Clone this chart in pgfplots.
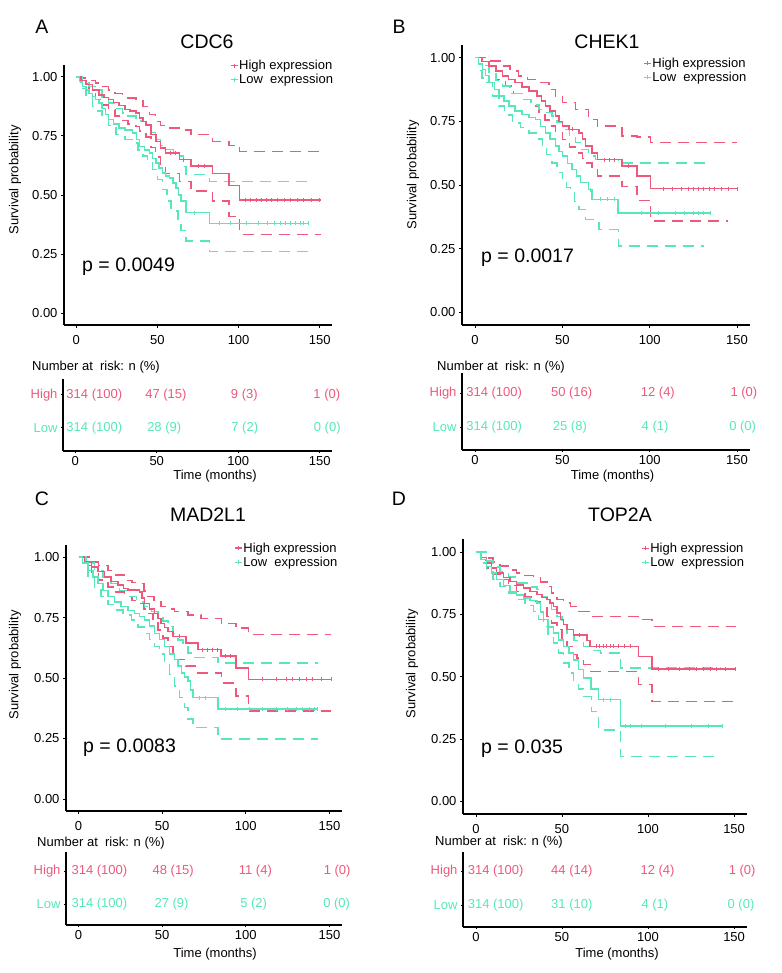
\documentclass[border=0pt]{standalone}
\usepackage{pgfplots}
\pgfplotsset{compat=1.18}
\usepackage{fontspec}
\setmainfont{Liberation Sans}
\definecolor{hi}{RGB}{238,88,122}
\definecolor{lo}{RGB}{86,232,186}
\newcommand{\fsS}{\fontsize{13}{15}\selectfont}
\newcommand{\fsL}{\fontsize{19.5}{22}\selectfont}
\pgfplotsset{
  base/.style={scale only axis, axis lines=left, axis line style={-, line width=1.1pt},
    xmin=-7.5, xmax=157.5, xtick={0,50,100,150}, xticklabels={0,50,100,150},
    tick align=outside, major tick length=3pt, tick style={black, line width=0.8pt},
    ticklabel style={font=\fsS}, clip=false,
    /pgf/number format/assume math mode=true},
  surv/.style={base, ymin=-0.05, ymax=1.05, ytick={0,0.25,0.5,0.75,1},
    yticklabels={0.00,0.25,0.50,0.75,1.00}, xticklabel style={yshift=-4pt},
    legend image code/.code={\draw[##1] (0pt,0pt) -- (7pt,0pt); \draw[##1, line width=0.8pt] (3.5pt,-2pt) -- (3.5pt,2pt);},
    legend style={draw=none, fill=none, font=\fsS, inner sep=0pt, row sep=2pt,
      nodes={inner sep=0.6pt, anchor=west}},
    legend cell align=left},
  tab/.style={base, ytick={1,2}, yticklabels={\textcolor{lo}{Low},\textcolor{hi}{High}}, major tick length=2pt},
  est/.style={const plot, line width=1.5pt, forget plot},
  ci/.style={const plot, line width=1.45pt, dash pattern=on 11pt off 7pt, forget plot},
  cens/.style={only marks, mark=|, mark size=2pt, forget plot, mark options={line width=0.8pt, solid}},
}
\begin{document}
\begin{tikzpicture}[x=1pt,y=1pt]
\path[use as bounding box] (0,0) rectangle (781,973);

% ---------------- Panel A ----------------
\begin{axis}[surv, at={(64pt,648pt)}, anchor=south west, width=268pt, height=260pt,
  legend style={at={(1.007,1.022)}, anchor=north east}]
\addplot[ci, hi] coordinates {(0,1.0)(4,0.995)(8,0.985)(12,0.973)(16,0.958)(20,0.945)(24,0.93)(28.6,0.917)(32,0.91)(36.8,0.903)(41,0.875)(45,0.84)(49,0.81)(52,0.795)(55,0.783)(63.6,0.775)(70.8,0.755)(84,0.727)(94,0.71)(100.6,0.685)(150.6,0.685)};
\addplot[ci, hi] coordinates {(0,1.0)(4,0.97)(8,0.935)(12,0.905)(16,0.88)(20,0.86)(24,0.835)(28,0.815)(32,0.8)(36.8,0.79)(39,0.77)(43,0.745)(46,0.7)(49,0.66)(52,0.625)(55,0.59)(63.6,0.558)(70.8,0.516)(84,0.474)(94,0.41)(100.6,0.333)(150.6,0.333)};
\addplot[ci, lo] coordinates {(0,1.0)(4,0.985)(8,0.96)(12,0.945)(16,0.915)(20,0.889)(24,0.865)(28.6,0.847)(32,0.835)(36.8,0.826)(40,0.81)(43,0.797)(46,0.765)(49,0.734)(52,0.71)(55,0.692)(60,0.675)(63.6,0.664)(66,0.62)(67.7,0.586)(82,0.558)(142.8,0.558)};
\addplot[ci, lo] coordinates {(0,1.0)(3,0.95)(6,0.92)(10,0.875)(13,0.855)(16,0.833)(20,0.795)(24.5,0.755)(30,0.735)(34.8,0.72)(38,0.69)(41,0.664)(44,0.635)(47,0.608)(50,0.565)(53,0.523)(56,0.475)(58.4,0.432)(62.6,0.397)(64.6,0.35)(67.7,0.305)(82,0.26)(142.8,0.26)};
\addplot[est, hi] coordinates {(0,1.0)(3,0.985)(6,0.968)(10,0.945)(14,0.924)(17,0.912)(20,0.903)(23,0.892)(26.5,0.878)(30,0.861)(33,0.855)(36.8,0.847)(39,0.826)(41,0.81)(43,0.797)(46,0.755)(49,0.727)(52,0.699)(55,0.678)(63.6,0.65)(70.8,0.622)(84,0.59)(94,0.54)(100.6,0.478)(150.6,0.478)};
\addplot[est, lo] coordinates {(0,1.0)(2,0.98)(4,0.96)(6,0.945)(8,0.93)(10,0.917)(12,0.903)(14,0.889)(16,0.865)(18,0.84)(20,0.819)(23,0.8)(26.5,0.783)(30,0.775)(34.8,0.762)(37,0.735)(39,0.706)(42,0.69)(45,0.678)(47,0.655)(49,0.636)(51,0.615)(53,0.594)(55,0.58)(57.4,0.572)(59.5,0.55)(61.5,0.53)(63,0.5)(64.6,0.474)(67.7,0.425)(82,0.38)(142.8,0.38)};
\addplot[cens, hi] coordinates {(58,0.678)(61,0.678)(66,0.65)(75,0.622)(79,0.622)(104,0.478)(107,0.478)(111,0.478)(114,0.478)(117,0.478)(120,0.478)(124,0.478)(128,0.478)(132,0.478)(136,0.478)(140,0.478)(145,0.478)(150,0.478)};
\addplot[cens, lo] coordinates {(73,0.425)(88,0.38)(95,0.38)(105,0.38)(112,0.38)(118,0.38)(122,0.38)(126,0.38)(129,0.38)(132,0.38)(135,0.38)(138,0.38)(140,0.38)(142.8,0.38)};
\addlegendimage{hi, line width=1.4pt}\addlegendentry{High expression}
\addlegendimage{lo, line width=1.4pt}\addlegendentry{Low~ expression}
\end{axis}
\begin{axis}[tab, at={(63pt,522pt)}, anchor=south west, width=269pt, height=72pt, ymin=0.3, ymax=2.48]
\addplot[draw=none, forget plot] coordinates {(0,1)(150,2)};
\node[hi, font=\fsS] at (axis cs:11.7,2) {314 (100)};
\node[hi, font=\fsS] at (axis cs:55.6,2) {47 (15)};
\node[hi, font=\fsS] at (axis cs:103.7,2) {9 (3)};
\node[hi, font=\fsS] at (axis cs:154.3,2) {1 (0)};
\node[lo, font=\fsS] at (axis cs:11.7,1) {314 (100)};
\node[lo, font=\fsS] at (axis cs:54.6,1) {28 (9)};
\node[lo, font=\fsS] at (axis cs:104,1) {7 (2)};
\node[lo, font=\fsS] at (axis cs:154.6,1) {0 (0)};
\end{axis}

% ---------------- Panel B ----------------
\begin{axis}[surv, at={(462pt,648pt)}, anchor=south west, width=288pt, height=280pt,
  legend style={at={(0.99,0.957)}, anchor=north east}]
\addplot[ci, hi] coordinates {(0,1.0)(8,0.987)(15.6,0.967)(20,0.948)(25,0.928)(30,0.915)(34.7,0.902)(42.3,0.875)(46,0.85)(50,0.823)(57.6,0.797)(65,0.757)(70,0.731)(84.2,0.692)(92.8,0.688)(100.4,0.666)(150,0.666)};
\addplot[ci, hi] coordinates {(0,1.0)(4,0.97)(8,0.941)(12,0.915)(17.5,0.889)(22,0.86)(27,0.836)(32,0.81)(36.6,0.784)(40,0.755)(42.3,0.731)(46,0.705)(50,0.679)(54,0.65)(57.6,0.626)(61.5,0.605)(63.3,0.587)(67,0.56)(70,0.535)(84.2,0.495)(92.8,0.44)(100.4,0.358)(145,0.358)};
\addplot[ci, lo] coordinates {(0,1.0)(4,0.97)(8,0.941)(12,0.91)(15.6,0.889)(20,0.86)(27,0.836)(32,0.815)(36.6,0.797)(40,0.785)(44,0.771)(47,0.745)(50,0.718)(54,0.69)(57.6,0.666)(61,0.64)(65,0.613)(69,0.6)(82,0.587)(134.7,0.587)};
\addplot[ci, lo] coordinates {(0,1.0)(2,0.95)(4,0.92)(6,0.902)(10,0.85)(13.7,0.81)(17,0.775)(21.3,0.744)(26,0.725)(31,0.705)(35,0.68)(38.5,0.653)(41,0.62)(44,0.587)(47,0.55)(50,0.509)(52.5,0.49)(54.7,0.469)(57,0.435)(59.5,0.404)(63.3,0.364)(71,0.325)(82,0.26)(131,0.26)};
\addplot[est, hi] coordinates {(0,1.0)(4,0.985)(8,0.967)(12,0.948)(15.6,0.928)(19,0.915)(23,0.902)(27,0.885)(31,0.869)(35.6,0.849)(38,0.83)(40.4,0.81)(43,0.79)(46,0.771)(48,0.75)(50,0.731)(53.7,0.718)(59.5,0.705)(61.5,0.68)(63.3,0.653)(67,0.626)(70,0.6)(84.2,0.574)(92.8,0.535)(100.4,0.486)(150,0.486)};
\addplot[est, lo] coordinates {(0,1.0)(2,0.975)(4.2,0.954)(6,0.93)(8,0.902)(11,0.875)(13.7,0.849)(16.5,0.83)(19.4,0.81)(23,0.79)(27,0.777)(31,0.765)(34.7,0.758)(37.5,0.73)(40.4,0.705)(43,0.68)(46,0.653)(48,0.632)(50,0.613)(53,0.585)(55.6,0.561)(58,0.535)(60.4,0.509)(65,0.482)(67,0.443)(82,0.39)(134.7,0.39)};
\addplot[cens, hi] coordinates {(56,0.718)(74,0.6)(77,0.6)(80,0.6)(88,0.574)(108,0.486)(113,0.486)(118,0.486)(122,0.486)(125,0.486)(128,0.486)(131,0.486)(134,0.486)(137,0.486)(141,0.486)(145,0.486)(150,0.486)};
\addplot[cens, lo] coordinates {(66,0.482)(72,0.443)(76,0.443)(80,0.443)(95,0.39)(105,0.39)(115,0.39)(120,0.39)(125,0.39)(128,0.39)(131,0.39)(134.7,0.39)};
\addlegendimage{hi, line width=1.4pt}\addlegendentry{High expression}
\addlegendimage{lo, line width=1.4pt}\addlegendentry{Low~ expression}
\end{axis}
\begin{axis}[tab, at={(462pt,523pt)}, anchor=south west, width=288pt, height=77pt, ymin=0.32, ymax=2.59]
\addplot[draw=none, forget plot] coordinates {(0,1)(150,2)};
\node[hi, font=\fsS] at (axis cs:10.9,2) {314 (100)};
\node[hi, font=\fsS] at (axis cs:55.3,2) {50 (16)};
\node[hi, font=\fsS] at (axis cs:104.7,2) {12 (4)};
\node[hi, font=\fsS] at (axis cs:154,2) {1 (0)};
\node[lo, font=\fsS] at (axis cs:10.9,1) {314 (100)};
\node[lo, font=\fsS] at (axis cs:54.3,1) {25 (8)};
\node[lo, font=\fsS] at (axis cs:103.1,1) {4 (1)};
\node[lo, font=\fsS] at (axis cs:153.3,1) {0 (0)};
\end{axis}

% ---------------- Panel C ----------------
\begin{axis}[surv, at={(66pt,162pt)}, anchor=south west, width=276pt, height=266pt,
  legend style={at={(0.986,1.0115)}, anchor=north east}]
\addplot[ci, hi] coordinates {(0,1.0)(7.6,0.98)(12,0.965)(17.5,0.945)(22,0.925)(27.5,0.904)(32,0.895)(36.5,0.89)(39,0.86)(41.4,0.836)(45,0.815)(49.4,0.795)(53,0.785)(57.4,0.774)(65.3,0.76)(73.3,0.747)(85.3,0.726)(94.2,0.706)(101.6,0.679)(151,0.679)};
\addplot[ci, hi] coordinates {(0,1.0)(3.5,0.965)(7.6,0.932)(12,0.905)(17.5,0.877)(22,0.855)(27.5,0.836)(32,0.82)(36.5,0.808)(39,0.785)(41.4,0.767)(44.5,0.73)(47.4,0.699)(50.5,0.665)(53.4,0.631)(56.4,0.6)(57.4,0.576)(64.3,0.549)(71.3,0.521)(85.3,0.48)(94.2,0.425)(101.6,0.364)(151,0.364)};
\addplot[ci, lo] coordinates {(0,1.0)(4.5,0.975)(9.6,0.945)(14.5,0.918)(19.5,0.89)(24.5,0.862)(29.5,0.836)(34.5,0.815)(39.4,0.795)(43.5,0.775)(47.4,0.754)(50.5,0.735)(53.4,0.713)(56.5,0.685)(59.4,0.658)(62.5,0.63)(65.3,0.603)(68.3,0.585)(83.3,0.562)(143,0.562)};
\addplot[ci, lo] coordinates {(0,1.0)(2.5,0.96)(5.6,0.918)(9.5,0.875)(13.5,0.836)(17.5,0.805)(21.5,0.781)(26.5,0.76)(31.5,0.74)(35.5,0.71)(39.4,0.685)(42.5,0.66)(45.4,0.631)(48.5,0.6)(51.4,0.562)(54.5,0.515)(57.4,0.466)(60.5,0.42)(63.3,0.378)(65.5,0.33)(68.3,0.295)(83.3,0.248)(143,0.248)};
\addplot[est, hi] coordinates {(0,1.0)(3.5,0.98)(7.6,0.959)(11.5,0.94)(15.5,0.918)(19.5,0.9)(23.5,0.884)(27,0.87)(29.5,0.863)(36.5,0.856)(38,0.83)(39.4,0.808)(42.5,0.785)(45.4,0.767)(47.5,0.745)(49.4,0.726)(51.5,0.708)(53.4,0.692)(56.4,0.672)(64.3,0.644)(71.3,0.617)(85.3,0.59)(94.2,0.542)(101.6,0.494)(151,0.494)};
\addplot[est, lo] coordinates {(0,1.0)(2.5,0.975)(5.6,0.945)(8.5,0.918)(11.6,0.891)(14.5,0.862)(17.5,0.836)(21.5,0.815)(25.5,0.795)(29.5,0.78)(33.5,0.767)(36.5,0.755)(39.4,0.74)(42.5,0.715)(45.4,0.685)(48.5,0.66)(51.4,0.631)(54.5,0.6)(57.4,0.576)(59.5,0.55)(61.4,0.521)(63.3,0.505)(65.3,0.487)(66.8,0.45)(68.3,0.419)(83.3,0.371)(143,0.371)};
\addplot[cens, hi] coordinates {(60,0.672)(74,0.617)(77,0.617)(80,0.617)(83,0.617)(88,0.59)(91,0.59)(110,0.494)(118,0.494)(124,0.494)(128,0.494)(132,0.494)(136,0.494)(140,0.494)(145,0.494)(151,0.494)};
\addplot[cens, lo] coordinates {(72,0.419)(76,0.419)(88,0.371)(95,0.371)(102,0.371)(110,0.371)(118,0.371)(125,0.371)(130,0.371)(134,0.371)(138,0.371)(141,0.371)(143,0.371)};
\addlegendimage{hi, line width=1.4pt}\addlegendentry{High expression}
\addlegendimage{lo, line width=1.4pt}\addlegendentry{Low~ expression}
\end{axis}
\begin{axis}[tab, at={(66pt,48pt)}, anchor=south west, width=276pt, height=73pt, ymin=0.36, ymax=2.58]
\addplot[draw=none, forget plot] coordinates {(0,1)(150,2)};
\node[hi, font=\fsS] at (axis cs:12.5,2) {314 (100)};
\node[hi, font=\fsS] at (axis cs:56.6,2) {48 (15)};
\node[hi, font=\fsS] at (axis cs:105.7,2) {11 (4)};
\node[hi, font=\fsS] at (axis cs:154.6,2) {1 (0)};
\node[lo, font=\fsS] at (axis cs:12.5,1) {314 (100)};
\node[lo, font=\fsS] at (axis cs:55.6,1) {27 (9)};
\node[lo, font=\fsS] at (axis cs:104.7,1) {5 (2)};
\node[lo, font=\fsS] at (axis cs:154.3,1) {0 (0)};
\end{axis}

% ---------------- Panel D ----------------
\begin{axis}[surv, at={(463pt,159pt)}, anchor=south west, width=284pt, height=274.5pt,
  legend style={at={(0.993,0.991)}, anchor=north east}]
\addplot[ci, hi] coordinates {(0,1.0)(6.2,0.976)(10,0.96)(14,0.943)(19,0.928)(23.7,0.916)(28.5,0.905)(33.4,0.896)(37.5,0.88)(41.2,0.862)(44,0.835)(47,0.809)(51,0.795)(54.8,0.782)(60,0.762)(66.4,0.742)(94.6,0.729)(102.4,0.702)(151,0.702)};
\addplot[ci, hi] coordinates {(0,1.0)(3,0.965)(6.2,0.936)(10,0.91)(14,0.889)(19,0.865)(23.7,0.842)(28.5,0.82)(33.4,0.802)(37.5,0.775)(41.2,0.742)(44,0.715)(47,0.689)(50,0.655)(52.8,0.622)(56.7,0.59)(58.7,0.575)(62.6,0.55)(66.4,0.521)(94.6,0.468)(102.4,0.401)(151,0.401)};
\addplot[ci, lo] coordinates {(0,1.0)(6.2,0.963)(10,0.94)(14,0.922)(19,0.9)(23.7,0.876)(30,0.86)(35.4,0.849)(38.5,0.82)(41.2,0.795)(44,0.77)(47,0.742)(50,0.71)(52.8,0.675)(57,0.645)(62.6,0.622)(67,0.605)(72.3,0.595)(84,0.535)(142,0.535)};
\addplot[ci, lo] coordinates {(0,1.0)(3,0.955)(6.2,0.922)(10,0.89)(14,0.862)(19,0.835)(23.7,0.809)(28.5,0.785)(33.4,0.762)(36.5,0.73)(39.2,0.702)(42,0.67)(45,0.635)(48,0.595)(50.9,0.555)(54,0.515)(56.7,0.481)(59.5,0.45)(62.6,0.421)(67,0.36)(71.3,0.287)(84,0.18)(141,0.18)};
\addplot[est, hi] coordinates {(0,1.0)(3,0.978)(6.2,0.956)(9,0.935)(12,0.916)(16,0.898)(19.8,0.882)(23.5,0.868)(27.6,0.856)(31.5,0.842)(35.4,0.829)(38.5,0.818)(41.2,0.809)(43,0.795)(45,0.782)(47,0.755)(49,0.729)(51,0.71)(52.8,0.689)(56.7,0.668)(64.5,0.645)(66.4,0.622)(94.6,0.582)(102.4,0.532)(151,0.532)};
\addplot[est, lo] coordinates {(0,1.0)(3,0.97)(6.2,0.942)(9,0.915)(12,0.889)(16,0.865)(19.8,0.842)(23.5,0.828)(27.6,0.815)(31.5,0.805)(35.4,0.795)(37.5,0.76)(39.2,0.729)(42,0.7)(45,0.675)(48,0.648)(50.9,0.622)(54,0.595)(56.7,0.568)(59.5,0.53)(62.6,0.495)(67,0.45)(71.3,0.408)(84,0.303)(143,0.303)};
\addplot[cens, hi] coordinates {(60,0.668)(70,0.622)(72,0.622)(74,0.622)(76,0.622)(78,0.622)(80,0.622)(83,0.622)(86,0.622)(90,0.622)(106,0.532)(112,0.532)(118,0.532)(124,0.532)(128,0.532)(132,0.532)(136,0.532)(140,0.532)(145,0.532)(151,0.532)};
\addplot[cens, lo] coordinates {(74,0.408)(78,0.408)(87,0.303)(90,0.303)(96,0.303)(110,0.303)(125,0.303)(135,0.303)(143,0.303)};
\addlegendimage{hi, line width=1.4pt}\addlegendentry{High expression}
\addlegendimage{lo, line width=1.4pt}\addlegendentry{Low~ expression}
\end{axis}
\begin{axis}[tab, at={(463pt,46pt)}, anchor=south west, width=284pt, height=75pt, ymin=0.35, ymax=2.56]
\addplot[draw=none, forget plot] coordinates {(0,1)(150,2)};
\node[hi, font=\fsS] at (axis cs:11.5,2) {314 (100)};
\node[hi, font=\fsS] at (axis cs:55.7,2) {44 (14)};
\node[hi, font=\fsS] at (axis cs:105.5,2) {12 (4)};
\node[hi, font=\fsS] at (axis cs:154.7,2) {1 (0)};
\node[lo, font=\fsS] at (axis cs:11.5,1) {314 (100)};
\node[lo, font=\fsS] at (axis cs:55.7,1) {31 (10)};
\node[lo, font=\fsS] at (axis cs:104,1) {4 (1)};
\node[lo, font=\fsS] at (axis cs:154,1) {0 (0)};
\end{axis}

% ---------------- Texts ----------------
\node[font=\fsL] at (42,946) {A};
\node[font=\fsL] at (399,946) {B};
\node[font=\fsL] at (42,474) {C};
\node[font=\fsL] at (399,474) {D};
\node[font=\fsL] at (207,931) {CDC6};
\node[font=\fsL] at (607,931) {CHEK1};
\node[font=\fsL] at (208,458) {MAD2L1};
\node[font=\fsL] at (620,458) {TOP2A};
\node[font=\fsL, anchor=west, inner sep=0pt] at (82,706) {p = 0.0049};
\node[font=\fsL, anchor=west, inner sep=0pt] at (481,715) {p = 0.0017};
\node[font=\fsL, anchor=west, inner sep=0pt] at (83,225) {p = 0.0083};
\node[font=\fsL, anchor=west, inner sep=0pt] at (481,224) {p = 0.035};
\node[font=\fsS, rotate=90] at (15,793) {Survival probability};
\node[font=\fsS, rotate=90] at (413,798) {Survival probability};
\node[font=\fsS, rotate=90] at (15,308) {Survival probability};
\node[font=\fsS, rotate=90] at (412,309) {Survival probability};
\node[font=\fsS, anchor=west, inner sep=0pt] at (32,606) {Number at~ risk: n (\%)};
\node[font=\fsS, anchor=west, inner sep=0pt] at (437,606) {Number at~ risk: n (\%)};
\node[font=\fsS, anchor=west, inner sep=0pt] at (37,130) {Number at~ risk: n (\%)};
\node[font=\fsS, anchor=west, inner sep=0pt] at (435,131) {Number at~ risk: n (\%)};
\node[font=\fsS] at (215,497) {Time (months)};
\node[font=\fsS] at (612.5,497) {Time (months)};
\node[font=\fsS] at (215,19) {Time (months)};
\node[font=\fsS] at (617,19) {Time (months)};
\end{tikzpicture}
\end{document}
